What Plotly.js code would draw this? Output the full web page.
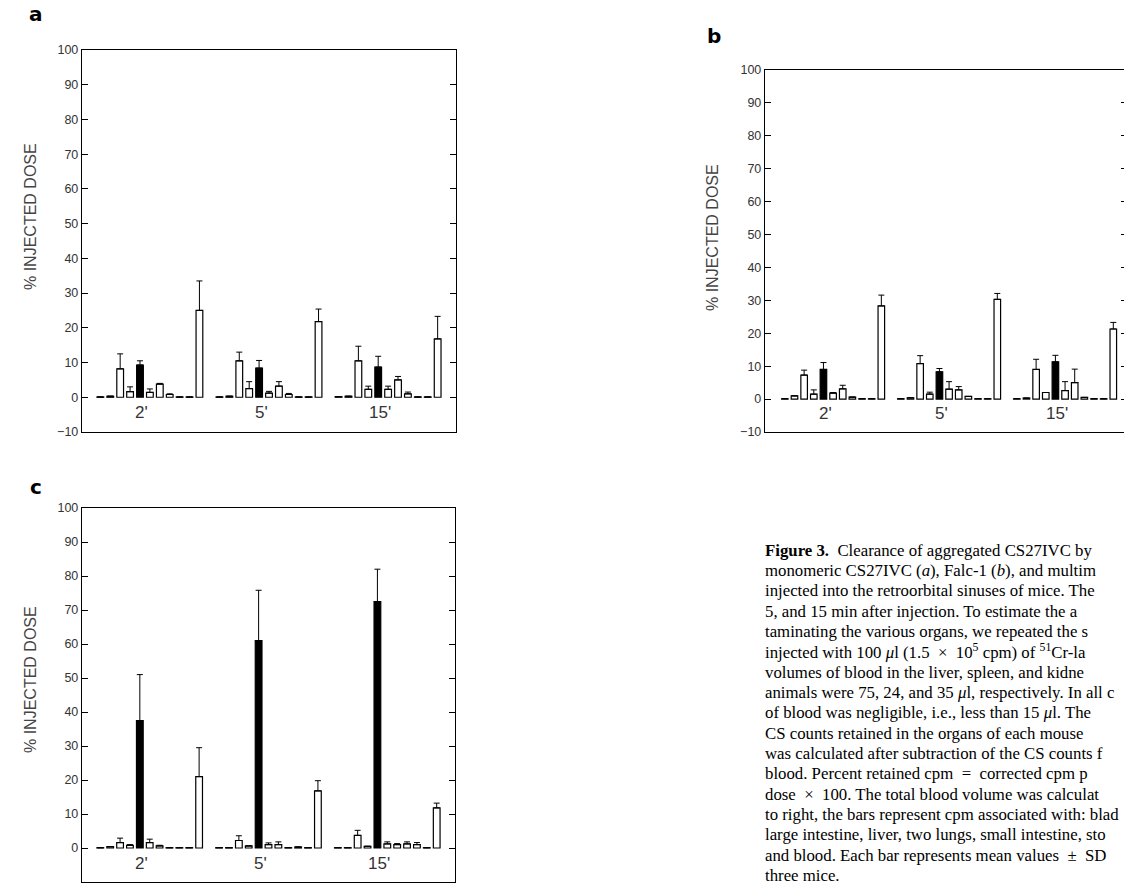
<!DOCTYPE html>
<html>
<head>
<meta charset="utf-8">
<script src="https://cdn.plot.ly/plotly-3.0.1.min.js"></script>
<style>
html,body{margin:0;padding:0;overflow:hidden;background:#fff;}
#chart{width:1140px;height:886px;}
</style>
</head>
<body>
<div id="chart"></div>
<script>
// ---- data ----
const timepoints = ["2'", "5'", "15'"];
const organs = ["bladder", "heart", "kidneys", "large intestine", "liver", "two lungs",
                "small intestine", "stomach", "spleen", "tail", "blood"];

// panel a: monomeric CS27IVC  (rows = timepoints, columns = organs)
const aMeans = [
  [0.1, 0.3, 8.2, 1.6, 9.3, 1.4, 3.8, 0.8, 0.1, 0.1, 25.0],
  [0.1, 0.3, 10.5, 2.5, 8.4, 1.2, 3.2, 0.8, 0.1, 0.1, 21.8],
  [0.2, 0.3, 10.5, 2.3, 8.7, 2.3, 5.0, 1.0, 0.1, 0.1, 16.8]
];
const aErr = [
  [0, 0, 4.3, 1.4, 1.2, 1.0, 0.2, 0.2, 0, 0, 8.5],
  [0, 0, 2.5, 2.0, 2.2, 0.5, 1.3, 0.3, 0, 0, 3.6],
  [0, 0, 4.2, 0.9, 3.1, 0.9, 1.0, 0.5, 0, 0, 6.5]
];
// panel b: Falc-1
const bMeans = [
  [0.1, 1.0, 7.3, 1.5, 9.0, 1.8, 3.1, 0.6, 0.1, 0.1, 28.3],
  [0.1, 0.4, 10.8, 1.5, 8.3, 3.0, 2.8, 0.8, 0.1, 0.1, 30.3],
  [0.1, 0.3, 9.0, 2.0, 11.3, 2.6, 5.0, 0.5, 0.1, 0.1, 21.3]
];
const bErr = [
  [0, 0, 1.5, 1.3, 2.1, 0.2, 1.1, 0, 0, 0, 3.3],
  [0, 0, 2.4, 0.6, 1.0, 2.3, 1.0, 0, 0, 0, 1.8],
  [0, 0, 3.1, 0, 2.0, 2.7, 4.1, 0, 0, 0, 2.0]
];
// panel c: multimeric
const cMeans = [
  [0.1, 0.4, 1.6, 0.8, 37.5, 1.6, 0.6, 0.1, 0.1, 0.1, 21.0],
  [0.1, 0.1, 2.2, 0.6, 61.0, 1.0, 1.0, 0.1, 0.3, 0.1, 16.8],
  [0.1, 0.1, 3.7, 0.5, 72.5, 1.2, 1.0, 1.2, 1.0, 0.1, 11.8]
];
const cErr = [
  [0, 0, 1.3, 0.2, 13.5, 1.0, 0.2, 0, 0, 0, 8.5],
  [0, 0, 1.4, 0, 14.8, 0.5, 0.8, 0, 0, 0, 3.0],
  [0, 0, 1.5, 0, 9.5, 0.6, 0.3, 0.6, 0.6, 0, 1.4]
];
const yTitle = "% INJECTED DOSE";
const panelLetters = ["a", "b", "c"];
const captionLines = [
  "<b>Figure 3.</b>  Clearance of aggregated CS27IVC by",
  "monomeric CS27IVC (<i>a</i>), Falc-1 (<i>b</i>), and multim",
  "injected into the retroorbital sinuses of mice. The",
  "5, and 15 min after injection. To estimate the a",
  "taminating the various organs, we repeated the s",
  "injected with 100 <i>μ</i>l (1.5  ×  10<sup>5</sup> cpm) of <sup>51</sup>Cr-la",
  "volumes of blood in the liver, spleen, and kidne",
  "animals were 75, 24, and 35 <i>μ</i>l, respectively. In all c",
  "of blood was negligible, i.e., less than 15 <i>μ</i>l. The",
  "CS counts retained in the organs of each mouse",
  "was calculated after subtraction of the CS counts f",
  "blood. Percent retained cpm  =  corrected cpm p",
  "dose  ×  100. The total blood volume was calculat",
  "to right, the bars represent cpm associated with: blad",
  "large intestine, liver, two lungs, small intestine, sto",
  "and blood. Each bar represents mean values  ±  SD",
  "three mice."
];

// ---- layout helpers ----
const W = 1140, H = 886;
const px = x => x / W;
const py = y => 1 - y / H;

const panels = [
  {means: aMeans, errs: aErr, xa: 'x',  ya: 'y',  xd: [82, 456],  yd: [50, 432],  xr: [-0.57, 2.57], letter: [36, 14],  title: [30, 217]},
  {means: bMeans, errs: bErr, xa: 'x2', ya: 'y2', xd: [765, 1127], yd: [70, 432], xr: [-0.587, 2.534], letter: [714, 36], title: [712, 238]},
  {means: cMeans, errs: cErr, xa: 'x3', ya: 'y3', xd: [82, 455],  yd: [508, 882], xr: [-0.57, 2.57], letter: [36, 487], title: [30, 680]}
];

const traces = [];
panels.forEach(p => {
  organs.forEach((org, j) => {
    traces.push({
      type: 'bar',
      name: org,
      x: timepoints,
      y: timepoints.map((t, i) => p.means[i][j]),
      xaxis: p.xa, yaxis: p.ya,
      marker: {color: org === 'liver' ? '#000' : '#fff', line: {color: '#000', width: 1.2}},
      error_y: {type: 'data', symmetric: false,
                array: timepoints.map((t, i) => p.errs[i][j]),
                arrayminus: timepoints.map(() => 0),
                color: '#000', thickness: 1, width: 3},
      showlegend: false,
      hoverinfo: 'skip'
    });
  });
});

const layout = {
  width: W, height: H,
  margin: {l: 0, r: 0, t: 0, b: 0},
  paper_bgcolor: '#fff', plot_bgcolor: '#fff',
  barmode: 'group', bargap: 0.085, bargroupgap: 0.32,
  showlegend: false,
  annotations: []
};

panels.forEach((p, k) => {
  const sfx = k === 0 ? '' : String(k + 1);
  layout['xaxis' + sfx] = {
    domain: [px(p.xd[0]), px(p.xd[1])],
    anchor: 'y' + sfx,
    type: 'category',
    range: p.xr,
    showline: true, linecolor: '#000', linewidth: 1.2, mirror: true,
    ticks: '', showgrid: false, zeroline: false,
    showticklabels: false
  };
  layout['yaxis' + sfx] = {
    domain: [py(p.yd[1]), py(p.yd[0])],
    anchor: 'x' + sfx,
    range: [-10, 100], dtick: 10, tick0: 0,
    showline: true, linecolor: '#000', linewidth: 1.2, mirror: 'allticks',
    ticks: 'inside', ticklen: 6, tickwidth: 1, tickcolor: '#000',
    showgrid: false, zeroline: false,
    tickfont: {family: 'Liberation Sans, Arial, sans-serif', size: 12.5, color: '#333'}
  };
  // time-point labels, drawn just below the zero line inside the plot
  timepoints.forEach(t => {
    layout.annotations.push({
      text: t, xref: p.xa, yref: p.ya, x: t, y: -4.5,
      xanchor: 'center', yanchor: 'middle', xshift: -8, showarrow: false,
      font: {family: 'Liberation Sans, Arial, sans-serif', size: 17, color: '#333'}
    });
  });
  layout.annotations.push({
    text: yTitle, xref: 'paper', yref: 'paper',
    x: px(p.title[0]), y: py(p.title[1]), xanchor: 'center', yanchor: 'middle',
    textangle: -90, showarrow: false,
    font: {family: 'Liberation Sans, Arial, sans-serif', size: 16, color: '#444'}
  });
  layout.annotations.push({
    text: '<b>' + panelLetters[k] + '</b>', xref: 'paper', yref: 'paper',
    x: px(p.letter[0]), y: py(p.letter[1]), xanchor: 'center', yanchor: 'middle',
    showarrow: false,
    font: {family: 'DejaVu Sans, sans-serif', size: 20, color: '#000'}
  });
});

captionLines.forEach((line, i) => {
  layout.annotations.push({
    text: line, xref: 'paper', yref: 'paper',
    x: px(763), y: py(550 + i * 20.35), xanchor: 'left', yanchor: 'middle',
    align: 'left', showarrow: false,
    font: {family: 'Liberation Serif, DejaVu Serif, serif', size: 16.8, color: '#000'}
  });
});

Plotly.newPlot('chart', traces, layout, {staticPlot: true, displayModeBar: false});
</script>
</body>
</html>
